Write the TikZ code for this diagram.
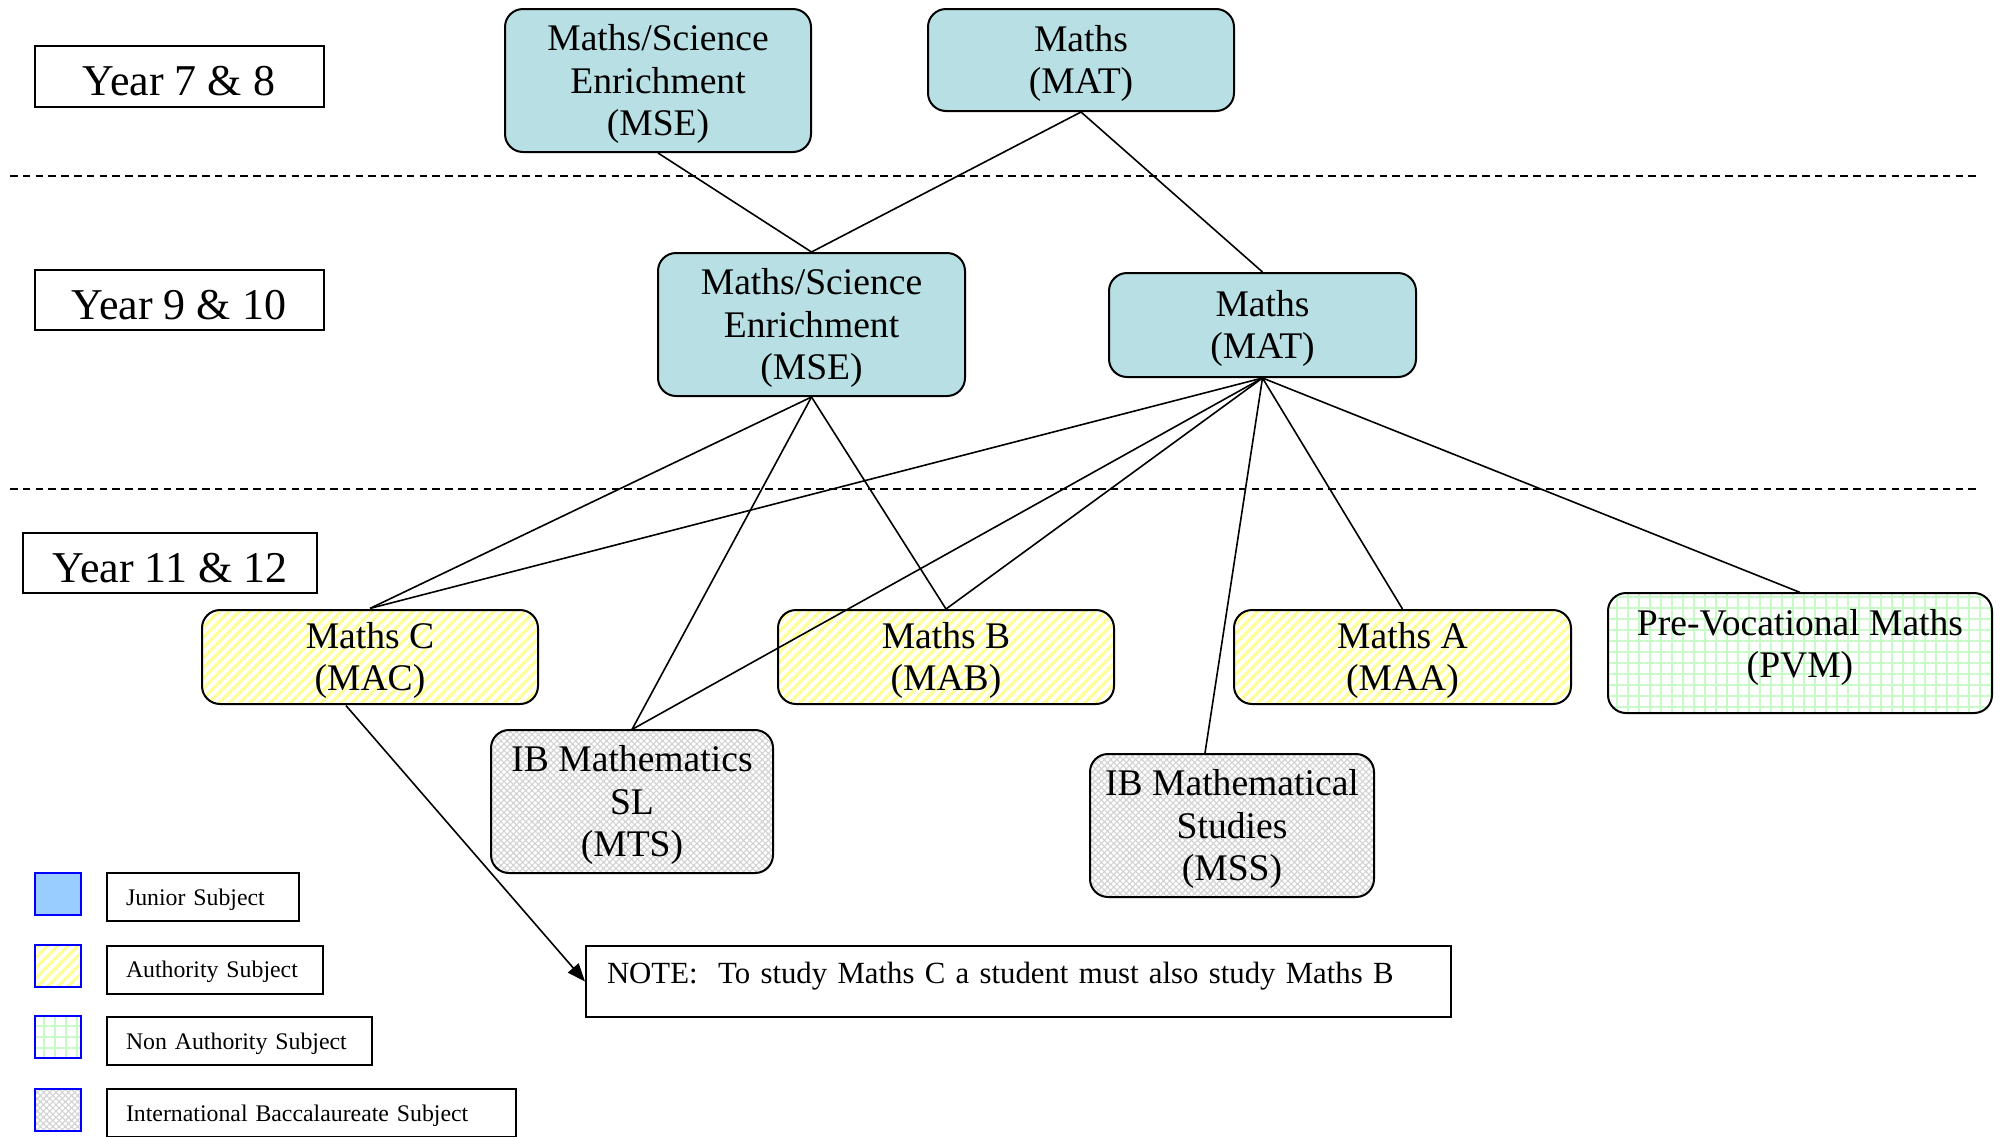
\documentclass[tikz,border=0pt]{standalone}
\usepackage{fontspec}
\setmainfont{Liberation Serif}
\usetikzlibrary{patterns,patterns.meta,arrows.meta}
\definecolor{juniorfill}{RGB}{184,224,228}
\definecolor{juniorkey}{RGB}{153,204,255}
\definecolor{authyellow}{RGB}{255,255,150}
\definecolor{nongreen}{RGB}{200,250,200}

\begin{document}
\begin{tikzpicture}[x=0.5pt,y=-0.5pt,
  subj/.style={draw,line width=1pt,rounded corners=9pt,align=center,inner sep=2pt,text depth=0.5pt,font=\fontsize{18.8}{21.3}\selectfont},
  junior/.style={subj,fill=juniorfill},
  authority/.style={subj,pattern={Lines[angle=45,distance=3.6pt,line width=1.6pt]},pattern color=authyellow},
  nonauth/.style={subj,pattern={Hatch[angle=0,distance=5.5pt,line width=0.6pt]},pattern color=nongreen},
  ib/.style={subj,pattern={Hatch[angle=45,distance=2.2pt,line width=0.55pt]},pattern color=gray!35},
  year/.style={draw,line width=1pt,text height=19pt,text depth=0pt,font=\fontsize{22}{26}\selectfont},
  key/.style={draw=blue,line width=1pt,minimum width=23pt,minimum height=21pt,inner sep=0pt},
  keytext/.style={draw,line width=1pt,anchor=west,minimum height=24pt,inner xsep=9.5pt,text width=#1,text depth=0pt,font=\fontsize{11.9}{14}\selectfont},
  link/.style={line width=0.8pt}]
\useasboundingbox (0,0) rectangle (2004,1136);

% year levels
\node[year,minimum width=144.5pt,minimum height=30.5pt] (y78) at (179,76.5) {Year 7 \& 8};
\node[year,minimum width=144.5pt,minimum height=30pt] (y910) at (179,300) {Year 9 \& 10};
\node[year,minimum width=147pt,minimum height=30pt] (y1112) at (170,563) {Year 11 \& 12};
\draw[line width=0.75pt,dash pattern=on 3.8pt off 2.6pt] (10,176) -- (1978,176);
\draw[line width=0.75pt,dash pattern=on 3.8pt off 2.6pt] (10,489) -- (1978,489);

% junior subjects
\node[junior,minimum width=153pt,minimum height=71.5pt] (mse7) at (658,80.5) {Maths/Science\\Enrichment\\(MSE)};
\node[junior,minimum width=153pt,minimum height=51pt] (mat7) at (1081,60) {Maths\\(MAT)};
\node[junior,minimum width=153.5pt,minimum height=71.5pt] (mse9) at (811.5,324.5) {Maths/Science\\Enrichment\\(MSE)};
\node[junior,minimum width=153.5pt,minimum height=52pt] (mat9) at (1262.5,325) {Maths\\(MAT)};

% senior subjects
\node[authority,minimum width=168pt,minimum height=47pt] (mac) at (370,657) {Maths C\\(MAC)};
\node[authority,minimum width=168pt,minimum height=47pt] (mab) at (946,657) {Maths B\\(MAB)};
\node[authority,minimum width=168.5pt,minimum height=47pt] (maa) at (1402.5,657) {Maths A\\(MAA)};
\node[nonauth,minimum width=192pt,minimum height=60pt,text depth=9.5pt] (pvm) at (1800,653) {Pre-Vocational Maths\\(PVM)};
\node[ib,minimum width=141pt,minimum height=71.5pt] (mts) at (632,801.5) {IB Mathematics\\SL\\(MTS)};
\node[ib,minimum width=142pt,minimum height=71.5pt] (mss) at (1232,825.5) {IB Mathematical\\Studies\\(MSS)};

\node[draw,line width=1pt,anchor=west,minimum height=35.5pt,inner xsep=10.5pt,text width=411.5pt,text depth=9pt,
  font=\fontsize{15.4}{18}\selectfont] (note) at (585,981.5) {\mbox{NOTE:\ \ To study Maths C a student must also study Maths B}};

% pathways
\draw[link] (mse7.south) -- (mse9.north);
\draw[link] (mat7.south) -- (mse9.north);
\draw[link] (mat7.south) -- (mat9.north);
\foreach \t in {mac,mts,mab}
  \draw[link] (mse9.south) -- (\t.north);
\foreach \t in {mac,mts,mab,maa,pvm}
  \draw[link] (mat9.south) -- (\t.north);
\draw[link] (mat9.south) -- ([xshift=-13.5pt]mss.north);
\draw[link,-{Triangle[length=9pt,width=7pt]}] ([xshift=-12pt]mac.south) -- (note.west);

% legend
\node[key,fill=juniorkey] (kjun) at (57.5,894) {};
\node[key,pattern={Lines[angle=45,distance=3.6pt,line width=1.6pt]},pattern color=authyellow] (kauth) at (57.5,965.5) {};
\node[key,pattern={Hatch[angle=0,distance=5.5pt,line width=0.6pt]},pattern color=nongreen] (knon) at (57.5,1037) {};
\node[key,pattern={Hatch[angle=45,distance=2.2pt,line width=0.55pt]},pattern color=gray!35] (kib) at (57.5,1110) {};
\node[keytext=77pt] (tjun) at (106,897) {Junior Subject};
\node[keytext=89pt] (tauth) at (106,969.5) {Authority Subject};
\node[keytext=113.5pt] (tnon) at (106,1041) {Non Authority Subject};
\node[keytext=185.5pt] (tib) at (106,1113) {International Baccalaureate Subject};

\end{tikzpicture}
\end{document}
